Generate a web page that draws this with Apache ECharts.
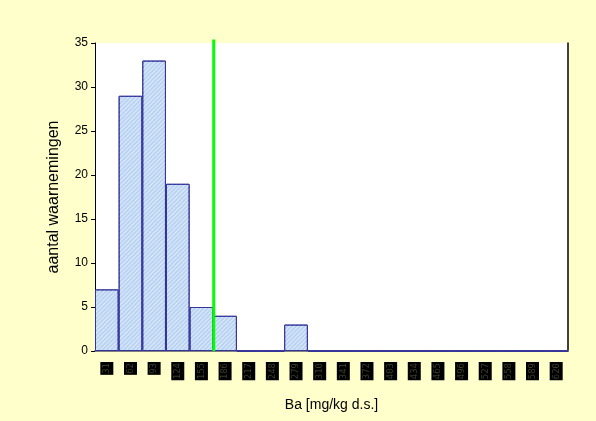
<!DOCTYPE html>
<html>
<head>
<meta charset="utf-8">
<script src="https://cdn.jsdelivr.net/npm/echarts@6/dist/echarts.min.js"></script>
<style>
html,body{margin:0;padding:0;background:#FFFFCC;}
#c{width:596px;height:421px;}
</style>
</head>
<body>
<div id="c"></div>
<script>
const categories = ['31','62','93','124','155','186','217','248','279','310','341','372','403','434','465','496','527','558','589','620'];
const counts = [7,29,33,19,5,4,0,0,3,0,0,0,0,0,0,0,0,0,0,0];
const yTicks = {min:0, max:35, interval:5};
const thresholdBin = 5.02;
const xTitle = 'Ba [mg/kg d.s.]';
const yTitle = 'aantal waarnemingen';

const chart = echarts.init(document.getElementById('c'), null, {renderer:'canvas'});
chart.setOption({
  backgroundColor:'#FFFFCC',
  animation:false,
  grid:{left:95, top:43, width:473, height:308, show:true, backgroundColor:'#ffffff', borderWidth:0},
  xAxis:[{
    type:'category', data:categories, boundaryGap:true,
    axisLine:{show:true, lineStyle:{color:'#000', width:1}},
    axisTick:{show:false},
    axisLabel:{rotate:90, interval:0, fontSize:9, fontFamily:'DejaVu Sans Mono', color:'#3c3c28', backgroundColor:'#000', padding:[2,1,2,1], margin:11},
    name:xTitle, nameLocation:'middle', nameGap:47,
    nameTextStyle:{fontFamily:'Liberation Sans', fontSize:14, color:'#000'}
  },{
    type:'value', min:0, max:20, position:'top', show:true,
    axisLine:{show:true, lineStyle:{color:'#808080', width:2}},
    axisTick:{show:false}, axisLabel:{show:false}, splitLine:{show:false}
  }],
  yAxis:[{
    type:'value', min:yTicks.min, max:yTicks.max, interval:yTicks.interval,
    axisLine:{show:true, lineStyle:{color:'#000', width:1}},
    axisTick:{show:true, length:4, lineStyle:{color:'#000'}},
    axisLabel:{fontFamily:'Liberation Sans', fontSize:12, color:'#000', margin:7},
    splitLine:{show:false},
    name:yTitle, nameLocation:'middle', nameGap:33,
    nameTextStyle:{fontFamily:'Liberation Sans', fontSize:16, color:'#000'}
  },{
    type:'value', min:yTicks.min, max:yTicks.max, position:'right',
    axisLine:{show:true, lineStyle:{color:'#000', width:1.5}},
    axisTick:{show:false}, axisLabel:{show:false}, splitLine:{show:false}
  }],
  series:[{
    type:'bar', data:counts, xAxisIndex:0, yAxisIndex:0,
    barWidth:'100%', barCategoryGap:0,
    itemStyle:{
      color:'#b9d3f2', borderColor:'#33339a', borderWidth:1,
      decal:{symbol:'rect', symbolSize:1, dashArrayX:[1,0], dashArrayY:[1,2], rotation:-Math.PI/4, color:'rgba(255,255,255,0.55)'}
    }
  },{
    type:'line', xAxisIndex:1, yAxisIndex:0, clip:false, symbol:'none',
    data:[[thresholdBin,0],[thresholdBin,35.4]],
    lineStyle:{color:'#00ff00', width:3}
  }]
});
</script>
</body>
</html>
